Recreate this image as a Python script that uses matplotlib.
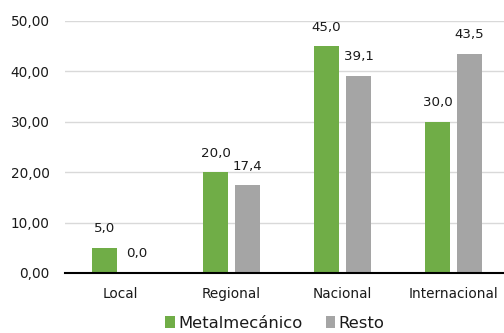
import matplotlib
matplotlib.use("Agg")
import matplotlib.pyplot as plt
import numpy as np

categories = ["Local", "Regional", "Nacional", "Internacional"]
metal = [5.0, 20.0, 45.0, 30.0]
resto = [0.0, 17.4, 39.1, 43.5]
series_names = ["Metalmecánico", "Resto"]
yticks = [0, 10, 20, 30, 40, 50]

green = "#70AD47"
grey = "#A5A5A5"
txt = "#1a1a1a"

plt.rcParams['font.family'] = ['DejaVu Sans']
fig = plt.figure(figsize=(5.04, 3.33), dpi=100)
ax = fig.add_axes([65/504, 1 - 273/333, (509-65)/504, (273-21)/333])

x = np.arange(len(categories))
w = 0.225
off = 0.144
b1 = ax.bar(x - off, metal, w, color=green, label=series_names[0], zorder=3)
b2 = ax.bar(x + off, resto, w, color=grey, label=series_names[1], zorder=3)

for bars, vals in ((b1, metal), (b2, resto)):
    for r, v in zip(bars, vals):
        ax.annotate(f"{v:.1f}".replace(".", ","),
                    (r.get_x() + r.get_width()/2, r.get_height()),
                    xytext=(0, 13.7), textcoords="offset points",
                    ha="center", va="center", fontsize=9.6, color=txt)

ax.set_ylim(0, 50)
ax.set_xlim(-0.5, 3.5)
ax.set_yticks(yticks)
ax.set_yticklabels([f"{t:.2f}".replace(".", ",") for t in yticks])
ax.set_xticks(x)
ax.set_xticklabels(categories)
ax.tick_params(axis="both", length=0, labelsize=9.8, colors=txt)
ax.tick_params(axis="y", pad=11)
ax.tick_params(axis="x", pad=10)
ax.yaxis.grid(True, color="#D9D9D9", linewidth=1.0, zorder=0)
ax.set_axisbelow(True)
for s in ["top", "right", "left"]:
    ax.spines[s].set_visible(False)
ax.spines["bottom"].set_color("black")
ax.spines["bottom"].set_linewidth(1.5)
ax.spines["bottom"].set_zorder(4)

fig.legend(handles=[b1, b2], labels=series_names, loc="center",
           bbox_to_anchor=(275/504, 1 - 323/333), ncol=2, frameon=False,
           fontsize=11.8, handlelength=0.6, handleheight=0.8,
           handletextpad=0.2, columnspacing=1.4, labelcolor=txt)

fig.savefig("out.png", dpi=100)
